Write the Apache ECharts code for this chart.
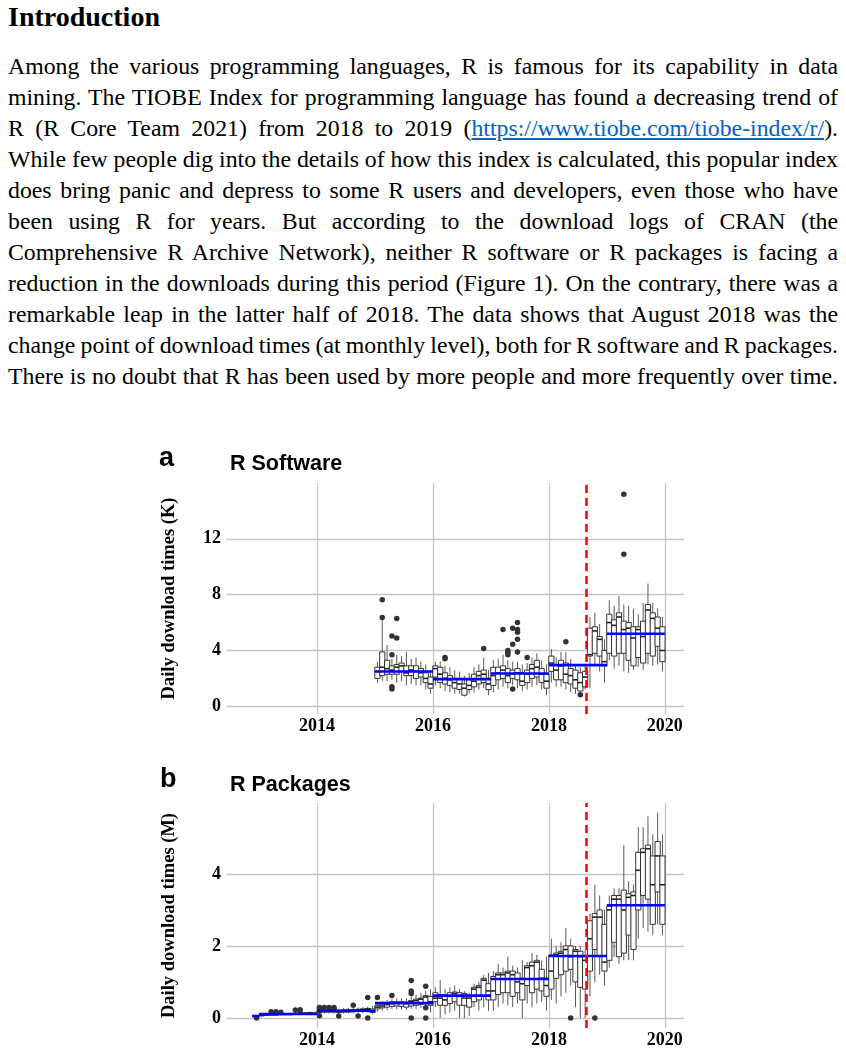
<!DOCTYPE html>
<html>
<head>
<meta charset="utf-8">
<script src="https://cdn.jsdelivr.net/npm/echarts@6/dist/echarts.min.js"></script>
<style>
body { margin: 0; width: 846px; height: 1057px; background: #fff; position: relative; overflow: hidden; }
.title { position: absolute; left: 8px; top: 3px; font: bold 28px/28px 'Liberation Serif', serif; color: #000; }
.para { position: absolute; left: 8px; top: 50.5px; width: 830px; font: 23.8px/31px 'Liberation Serif', serif; word-spacing: -1.5px; color: #000; }
.para div { text-align: justify; text-align-last: justify; white-space: nowrap; }
.para a { color: #0563c1; }
#chart { position: absolute; left: 0; top: 0; width: 846px; height: 1057px; }
</style>
</head>
<body>
<div class="title">Introduction</div>
<div class="para">
  <div>Among the various programming languages, R is famous for its capability in data</div>
  <div>mining. The TIOBE Index for programming language has found a decreasing trend of</div>
  <div>R (R Core Team 2021) from 2018 to 2019 (<a href="#">https://www.tiobe.com/tiobe-index/r/</a>).</div>
  <div>While few people dig into the details of how this index is calculated, this popular index</div>
  <div>does bring panic and depress to some R users and developers, even those who have</div>
  <div>been using R for years. But according to the download logs of CRAN (the</div>
  <div>Comprehensive R Archive Network), neither R software or R packages is facing a</div>
  <div>reduction in the downloads during this period (Figure 1). On the contrary, there was a</div>
  <div>remarkable leap in the latter half of 2018. The data shows that August 2018 was the</div>
  <div>change point of download times (at monthly level), both for R software and R packages.</div>
  <div>There is no doubt that R has been used by more people and more frequently over time.</div>
</div>
<div id="chart"></div>
<script>
// x axis (decimal years)
const xMin = 2012.43
const xMax = 2020.33
const yearTicks = [2014, 2016, 2018, 2020]
const changePoint = 2018.645

// ---- a: R software, daily downloads (K), monthly boxes 2015-01 .. 2019-12
const softStart = [2015, 1]
const softLow = [1.7,1.8,1.8,1.9,1.7,1.8,1.5,1.6,1.5,1.5,1.2,0.9,
  1.5,1.3,1.1,1.0,0.9,0.9,0.7,0.9,1.0,1.2,1.3,0.8,
  1.0,1.2,1.4,1.3,1.5,1.3,1.1,1.2,1.4,1.5,1.2,0.8,
  1.7,1.4,1.4,1.2,1.0,0.9,1.0,1.2,1.3,2.9,2.5,1.7,
  3.3,2.7,2.9,2.5,2.4,2.6,2.8,2.6,3.0,2.9,3.0,2.5]
const softQ1 = [2.0,2.2,2.3,2.3,2.3,2.5,2.2,2.2,2.0,2.1,1.7,1.3,
  2.1,1.7,1.6,1.5,1.3,1.2,0.8,1.2,1.4,1.6,1.7,1.2,
  1.5,1.9,2.0,1.7,2.0,1.9,1.5,1.7,2.0,2.1,1.7,1.3,
  2.5,1.9,1.9,1.7,1.6,1.3,1.1,1.4,3.6,3.8,3.6,2.9,
  3.8,3.6,3.8,3.8,3.3,2.9,3.5,3.1,3.8,3.6,4.3,3.2]
const softMed = [2.5,2.8,2.7,2.6,2.8,2.9,2.4,2.6,2.5,2.4,2.0,1.6,
  2.7,2.3,2.0,1.9,1.7,1.6,1.3,1.5,1.8,2.2,2.3,1.6,
  2.2,2.4,2.6,2.2,2.3,2.4,1.8,2.3,2.7,2.8,2.3,1.8,
  3.1,2.6,2.9,2.3,2.2,1.9,1.7,2.1,3.7,5.4,4.8,3.2,
  6.0,5.8,6.4,5.5,5.6,4.9,5.5,5.0,6.9,6.3,5.6,4.0]
const softQ3 = [2.8,3.9,3.3,2.9,3.0,3.1,2.9,2.9,2.9,2.7,2.4,2.1,
  2.9,2.8,2.4,2.2,2.0,2.0,1.6,1.9,2.3,2.5,2.6,2.0,
  2.8,2.8,2.9,2.7,2.6,2.7,2.4,2.6,3.0,3.3,2.7,2.3,
  3.6,3.0,3.3,3.1,2.7,2.6,2.4,2.5,5.6,5.7,5.0,4.0,
  6.6,6.2,6.7,6.1,6.0,5.7,5.7,6.1,7.3,6.7,6.4,5.7]
const softHigh = [3.2,6.2,4.4,3.4,3.7,3.6,3.9,3.4,3.5,3.2,3.0,2.6,
  3.2,3.2,2.9,2.8,2.6,2.5,2.2,2.4,2.8,3.0,3.5,2.6,
  3.3,3.4,3.7,3.3,3.2,3.2,3.0,3.1,3.5,3.8,3.3,3.0,
  4.1,3.5,3.9,3.9,3.4,3.0,2.8,2.9,6.4,6.7,5.9,4.8,
  7.6,7.2,7.9,7.3,7.2,7.0,6.6,7.4,8.8,7.4,7.0,6.4]
const softOutliers = [[2015.125,7.64],[2015.125,6.36],[2015.292,5.04],[2015.292,3.7],[2015.292,1.4],[2015.292,1.25],
  [2015.375,6.3],[2015.375,4.9],[2016.208,3.5],[2016.208,3.4],[2016.875,4.15],[2017.208,5.5],
  [2017.292,4.0],[2017.292,3.85],[2017.292,3.7],[2017.375,5.6],[2017.375,4.45],[2017.375,1.25],
  [2017.458,6.0],[2017.458,5.5],[2017.458,5.3],[2017.458,4.8],[2017.458,3.9],[2017.625,3.5],
  [2018.292,4.62],[2018.542,0.83],[2019.292,15.2],[2019.292,10.9]]
const softYearFrom = [2015, 2016, 2017, 2018, 2019]
const softYearTo = [2016, 2017, 2018, 2019, 2020]
const softYearMean = [2.5, 1.95, 2.35, 2.95, 5.2]

// ---- b: R packages, daily downloads (M), monthly boxes 2012-12 .. 2019-12
const pkgStart = [2012, 12]
const pkgLow = [0.01,
  0.04,0.05,0.06,0.06,0.07,0.07,0.07,0.08,0.08,0.09,0.09,0.07,
  0.11,0.12,0.12,0.12,0.11,0.12,0.13,0.13,0.14,0.14,0.15,0.10,
  0.17,0.20,0.22,0.25,0.24,0.24,0.22,0.25,0.25,0.28,0.30,0.15,
  0.30,0.00,0.10,0.15,0.20,0.00,0.00,0.05,0.30,0.20,0.30,0.20,
  0.20,0.30,0.40,0.35,0.30,0.40,0.00,0.40,0.30,0.40,0.45,0.20,
  0.50,0.40,0.60,0.70,0.90,0.30,0.00,0.00,0.60,1.00,1.20,0.90,
  1.40,1.70,1.50,1.60,1.60,1.60,2.20,2.50,2.40,2.30,2.60,2.30]
const pkgQ1 = [0.03,
  0.06,0.07,0.08,0.08,0.09,0.09,0.09,0.10,0.10,0.11,0.11,0.10,
  0.15,0.16,0.16,0.16,0.15,0.16,0.16,0.17,0.18,0.19,0.20,0.15,
  0.25,0.28,0.30,0.32,0.33,0.32,0.30,0.33,0.35,0.38,0.40,0.35,
  0.45,0.35,0.35,0.40,0.45,0.35,0.35,0.30,0.45,0.50,0.60,0.50,
  0.50,0.65,0.70,0.70,0.60,0.70,0.50,0.90,0.70,0.80,0.75,0.60,
  0.80,1.10,1.20,1.30,1.35,1.00,0.85,0.80,1.30,1.90,1.70,1.30,
  1.60,2.10,1.70,1.80,2.30,1.90,3.00,3.40,3.30,2.60,3.50,2.60]
const pkgMed = [0.05,
  0.07,0.08,0.09,0.09,0.10,0.10,0.10,0.11,0.12,0.12,0.13,0.12,
  0.17,0.20,0.19,0.20,0.18,0.19,0.20,0.21,0.22,0.23,0.24,0.20,
  0.30,0.33,0.37,0.40,0.42,0.42,0.40,0.45,0.48,0.52,0.58,0.45,
  0.55,0.55,0.50,0.60,0.68,0.60,0.55,0.55,0.80,0.85,1.05,0.75,
  0.75,1.20,1.20,1.25,1.20,1.00,0.95,1.40,1.45,1.55,1.10,0.90,
  1.30,1.75,1.80,1.90,1.70,1.85,1.70,1.60,2.20,2.80,2.80,1.55,
  3.00,3.30,3.30,3.00,3.35,3.40,4.10,4.60,4.70,3.70,4.50,3.70]
const pkgQ3 = [0.06,
  0.09,0.10,0.11,0.11,0.12,0.12,0.12,0.13,0.14,0.14,0.15,0.14,
  0.20,0.22,0.22,0.23,0.21,0.22,0.23,0.23,0.24,0.25,0.26,0.25,
  0.35,0.38,0.42,0.45,0.45,0.45,0.44,0.48,0.52,0.55,0.62,0.60,
  0.70,0.65,0.60,0.70,0.72,0.70,0.68,0.60,0.85,0.90,1.10,0.95,
  1.15,1.25,1.25,1.30,1.30,1.25,1.10,1.45,1.55,1.60,1.35,1.10,
  1.75,1.80,1.85,2.00,2.00,1.90,1.85,1.70,2.70,2.90,3.00,2.60,
  3.10,3.40,3.40,3.55,3.45,3.50,4.60,4.70,4.80,4.50,4.90,4.50]
const pkgHigh = [0.08,
  0.11,0.12,0.13,0.13,0.14,0.14,0.15,0.16,0.17,0.17,0.18,0.17,
  0.25,0.26,0.26,0.27,0.26,0.27,0.28,0.28,0.29,0.30,0.32,0.33,
  0.42,0.46,0.50,0.52,0.54,0.55,0.54,0.60,0.65,0.70,0.75,0.80,
  0.85,1.05,0.80,0.85,0.90,0.80,0.75,0.70,0.95,1.00,1.20,1.25,
  1.30,1.50,1.40,1.70,1.45,1.40,1.60,1.55,1.80,1.75,1.60,1.70,
  2.20,2.00,2.10,2.50,2.20,2.00,2.00,1.90,2.90,3.70,3.40,3.00,
  3.40,3.60,3.60,4.80,3.80,3.70,5.30,5.30,5.60,5.10,5.70,5.10]
const pkgOutliers = [[2012.958,0.0],
  [2013.208,0.17],[2013.292,0.17],[2013.375,0.16],[2013.625,0.22],[2013.708,0.23],[2013.708,0.19],
  [2014.042,0.29],[2014.042,0.27],[2014.125,0.29],[2014.208,0.29],[2014.292,0.29],[2014.292,0.27],
  [2014.042,0.06],[2014.375,0.05],[2014.625,0.35],[2014.708,0.05],[2014.875,0.0],[2014.875,0.57],
  [2015.042,0.57],[2015.292,0.62],[2015.625,1.04],[2015.625,0.75],[2015.625,0.68],[2015.625,0.0],
  [2015.875,0.88],[2015.875,0.28],[2015.875,0.0],[2018.375,0.0],[2018.792,0.0]]
const pkgYearFrom = [2012.88, 2013, 2014, 2015, 2016, 2017, 2018, 2019]
const pkgYearTo = [2013, 2014, 2015, 2016, 2017, 2018, 2019, 2020]
const pkgYearMean = [0.05, 0.11, 0.2, 0.41, 0.62, 1.08, 1.72, 3.13]

// mid-month position as decimal year
function monthPositions(start, n) {
    let res = []
    for (let i = 0; i < n; i++) {
        let m = start[1] - 1 + i
        res.push(start[0] + Math.floor(m / 12) + ((m % 12) + 0.5) / 12)
    }
    return res
}

function boxData(start, low, q1, med, q3, high) {
    let xs = monthPositions(start, low.length)
    return xs.map((x, i) => [x, low[i], q1[i], med[i], q3[i], high[i]])
}

const serif = "'Liberation Serif', 'Times New Roman', serif"
const sans = "'Liberation Sans', Arial, sans-serif"
const gridColor = '#c6c6c6'
const BOX_HALF = 2.6

// ggplot-like box: no whisker caps, grey whiskers, heavier median
function renderBox(params, api) {
    const x = api.value(0)
    const pLow = api.coord([x, api.value(1)])
    const pQ1 = api.coord([x, api.value(2)])
    const pMed = api.coord([x, api.value(3)])
    const pQ3 = api.coord([x, api.value(4)])
    const pHigh = api.coord([x, api.value(5)])
    const cx = pMed[0]
    return {
        type: 'group',
        children: [
            { type: 'line', shape: { x1: cx, y1: pLow[1], x2: cx, y2: pQ1[1] }, style: { stroke: '#5a5a5a', lineWidth: 1 } },
            { type: 'line', shape: { x1: cx, y1: pQ3[1], x2: cx, y2: pHigh[1] }, style: { stroke: '#5a5a5a', lineWidth: 1 } },
            { type: 'rect', shape: { x: cx - BOX_HALF, y: pQ3[1], width: BOX_HALF * 2, height: pQ1[1] - pQ3[1] }, style: { fill: '#fff', stroke: '#333', lineWidth: 1 } },
            { type: 'line', shape: { x1: cx - BOX_HALF, y1: pMed[1], x2: cx + BOX_HALF, y2: pMed[1] }, style: { stroke: '#222', lineWidth: 1.6 } }
        ]
    }
}

function xAxisFor(gridIndex) {
    return {
        type: 'value', gridIndex: gridIndex, min: xMin, max: xMax,
        axisLine: { show: false },
        axisTick: { show: false, customValues: yearTicks },
        axisLabel: { customValues: yearTicks, margin: 3, color: '#000', fontFamily: serif, fontWeight: 'bold', fontSize: 18,
            formatter: (v) => String(v) },
        splitLine: { show: true, lineStyle: { color: gridColor, width: 1.3 } }
    }
}

function yAxisFor(gridIndex, min, max, ticks, name) {
    return {
        type: 'value', gridIndex: gridIndex, min: min, max: max,
        name: name, nameLocation: 'middle', nameGap: 47,
        nameTextStyle: { color: '#000', fontFamily: serif, fontWeight: 'bold', fontSize: 18.5 },
        axisLine: { show: false },
        axisTick: { show: false, customValues: ticks },
        axisLabel: { customValues: ticks, margin: 5, color: '#000', fontFamily: serif, fontWeight: 'bold', fontSize: 18 },
        splitLine: { show: true, lineStyle: { color: gridColor, width: 1.3 } }
    }
}

function panelSeries(idx, boxes, outliers, from, to, means) {
    let series = [{
        type: 'custom', xAxisIndex: idx, yAxisIndex: idx,
        data: boxes, renderItem: renderBox, silent: true, z: 2,
        encode: { x: 0, y: [1, 2, 3, 4, 5] }
    }, {
        type: 'scatter', xAxisIndex: idx, yAxisIndex: idx,
        data: outliers, symbolSize: 5.5, silent: true, z: 3,
        itemStyle: { color: '#333', opacity: 1 },
        markLine: {
            silent: true, symbol: 'none', label: { show: false },
            lineStyle: { color: '#ff0000', type: [8, 5], width: 2.5 },
            data: [{ xAxis: changePoint }]
        }
    }]
    // yearly mean segments
    for (let i = 0; i < means.length; i++) {
        series.push({
            type: 'line', xAxisIndex: idx, yAxisIndex: idx,
            data: [[from[i], means[i]], [to[i], means[i]]],
            symbol: 'none', silent: true, z: 4,
            lineStyle: { color: '#0000ff', width: 2.6 }
        })
    }
    return series
}

const chart = echarts.init(document.getElementById('chart'), null, { renderer: 'canvas' })
const option = {
    animation: false,
    backgroundColor: 'transparent',
    grid: [
        { left: 226, top: 483, width: 458, height: 231 },
        { left: 226, top: 803, width: 458, height: 225 }
    ],
    xAxis: [xAxisFor(0), xAxisFor(1)],
    yAxis: [
        yAxisFor(0, -0.55, 16.0, [0, 4, 8, 12], 'Daily download times (K)'),
        yAxisFor(1, -0.28, 5.97, [0, 2, 4], 'Daily download times (M)')
    ],
    graphic: [
        { type: 'text', left: 159, top: 445, style: { text: 'a', font: 'bold 27px ' + sans, fill: '#000' } },
        { type: 'text', left: 230, top: 453, style: { text: 'R Software', font: 'bold 21.5px ' + sans, fill: '#000' } },
        { type: 'text', left: 160, top: 766, style: { text: 'b', font: 'bold 27px ' + sans, fill: '#000' } },
        { type: 'text', left: 230, top: 774, style: { text: 'R Packages', font: 'bold 21.5px ' + sans, fill: '#000' } }
    ],
    series: [].concat(
        panelSeries(0, boxData(softStart, softLow, softQ1, softMed, softQ3, softHigh), softOutliers, softYearFrom, softYearTo, softYearMean),
        panelSeries(1, boxData(pkgStart, pkgLow, pkgQ1, pkgMed, pkgQ3, pkgHigh), pkgOutliers, pkgYearFrom, pkgYearTo, pkgYearMean)
    )
}
chart.setOption(option)
</script>
</body>
</html>
